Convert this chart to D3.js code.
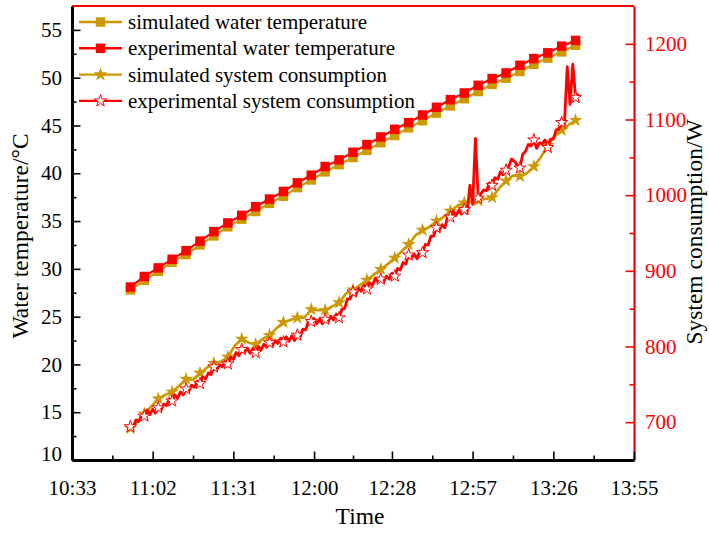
<!DOCTYPE html>
<html>
<head>
<meta charset="utf-8">
<script src="https://cdn.jsdelivr.net/npm/d3@7"></script>
<style>
  body { margin: 0; background: #fff; }
  svg { display: block; font-family: "Liberation Serif", "Times New Roman", serif; }
</style>
</head>
<body>
<div id="chart"></div>
<script>
// Axis ticks
const timeTicks = ["10:33", "11:02", "11:31", "12:00", "12:28", "12:57", "13:26", "13:55"];
const tempTicks = [10, 15, 20, 25, 30, 35, 40, 45, 50, 55];
const powerTicks = [700, 800, 900, 1000, 1100, 1200];

// Water temperature (°C), one reading every 5 min
const tempStart = "10:54", tempStep = 5;
const simTemp = [27.8, 28.8, 29.75, 30.7, 31.5, 32.5, 33.45, 34.4, 35.2, 36.0,
  36.85, 37.6, 38.5, 39.3, 40.15, 40.9, 41.65, 42.4, 43.2, 43.95,
  44.75, 45.5, 46.3, 47.05, 47.8, 48.55, 49.3, 49.95, 50.65, 51.4,
  52.05, 52.7, 53.4];
const expTemp = [28.1, 29.2, 30.1, 31.0, 31.9, 32.9, 33.9, 34.8, 35.6, 36.5,
  37.3, 38.1, 39.0, 39.8, 40.7, 41.4, 42.2, 43.0, 43.8, 44.6,
  45.3, 46.1, 46.9, 47.7, 48.4, 49.2, 49.9, 50.5, 51.3, 52.0,
  52.6, 53.3, 53.9];

// Simulated system consumption (W), every 2.5 min
const simPowerStart = "10:54", simPowerStep = 2.5;
const simPower = [692, 700, 711, 721, 731, 736, 740, 748, 757, 756,
  765, 772, 778, 780, 786, 801, 810, 805, 803, 810,
  815, 824, 832, 835, 838, 838, 849, 848, 848, 853,
  858, 870, 875, 881, 888, 895, 902, 909, 917, 926,
  935, 947, 954, 958, 966, 971, 979, 986, 990, 991,
  993, 995, 997, 1009, 1019, 1026, 1025, 1029, 1038, 1050,
  1066, 1078, 1086, 1093, 1099];

// Measured system consumption (W), every minute
const expPowerStart = "10:53", expPowerStep = 1;
const expPower = [689, 694, 694, 703, 701, 709, 708, 716, 710, 717,
  712, 719, 716, 724, 722, 731, 728, 736, 732, 740,
  736, 744, 741, 749, 746, 754, 751, 760, 757, 765,
  763, 773, 769, 776, 773, 780, 777, 786, 783, 792,
  788, 796, 792, 798, 791, 797, 792, 800, 796, 803,
  799, 805, 801, 808, 804, 811, 806, 813, 807, 814,
  808, 815, 813, 823, 822, 834, 833, 837, 830, 836,
  830, 836, 832, 840, 835, 843, 838, 849, 850, 863,
  863, 872, 868, 877, 873, 881, 876, 884, 881, 890,
  885, 889, 885, 893, 889, 897, 893, 903, 901, 911,
  909, 921, 917, 922, 916, 926, 924, 935, 934, 946,
  946, 957, 953, 961, 957, 971, 971, 979, 973, 980,
  975, 981, 976, 1013, 988, 1075, 996, 1002, 1007, 1006,
  1016, 1013, 1023, 1021, 1031, 1027, 1033, 1038, 1048, 1045,
  1040, 1036, 1054, 1058, 1067, 1065, 1073, 1062, 1069, 1068,
  1073, 1063, 1074, 1074, 1086, 1087, 1096, 1094, 1170, 1120,
  1173, 1129, 1134];

const GOLD = "#CC9900", RED = "#FF0000";
const SERIF = '"Liberation Serif", "Times New Roman", serif';

const toMin = s => { const [h, m] = s.split(":").map(Number); return h * 60 + m; };
const series = (start, step, vals) => vals.map((v, i) => ({ t: toMin(start) + i * step, v }));

const W = 709, H = 533;
const margin = { left: 72, right: 75, top: 6, bottom: 73 };
const plotW = W - margin.left - margin.right;
const plotH = H - margin.top - margin.bottom;

const svg = d3.select("#chart").append("svg")
  .attr("width", W).attr("height", H);

const g = svg.append("g").attr("transform", `translate(${margin.left},${margin.top})`);

// SCALES
const x = d3.scaleLinear().domain([toMin("10:33"), toMin("13:55")]).range([0, plotW]);
const yT = d3.scaleLinear().domain([10, 57.5]).range([plotH, 0]);
const yP = d3.scaleLinear().domain([650, 1250]).range([plotH, 0]);

const xMajor = timeTicks.map(toMin);
const xMinor = d3.pairs(xMajor).map(([a, b]) => (a + b) / 2);

// AXES (ticks point inward)
const styleAxis = (sel, color, width) => {
  sel.attr("font-family", SERIF).attr("font-size", 21);
  sel.select(".domain").attr("stroke", color).attr("stroke-width", width);
  sel.selectAll(".tick line").attr("stroke", color).attr("stroke-width", 1.6);
  sel.selectAll(".tick text").attr("fill", color === RED ? RED : "#000");
};
const minorStyle = color => s => {
  s.select(".domain").remove();
  s.selectAll("line").attr("stroke", color).attr("stroke-width", 1.6);
};

// minor ticks first so the axis lines sit on top
g.append("g").attr("transform", `translate(0,${plotH})`)
  .call(d3.axisBottom(x).tickValues(xMinor).tickSize(-4.5).tickSizeOuter(0).tickFormat(""))
  .call(minorStyle("#000"));
g.append("g")
  .call(d3.axisLeft(yT).tickValues(d3.range(12.5, 57.5, 5)).tickSize(-4.5).tickSizeOuter(0).tickFormat(""))
  .call(minorStyle("#000"));
g.append("g").attr("transform", `translate(${plotW},0)`)
  .call(d3.axisRight(yP).tickValues(d3.range(750, 1200, 100)).tickSize(-4.5).tickSizeOuter(0).tickFormat(""))
  .call(minorStyle(RED));

// top frame line
g.append("line").attr("x1", 0).attr("x2", plotW).attr("y1", 0).attr("y2", 0)
  .attr("stroke", RED).attr("stroke-width", 2.2);

g.append("g").attr("transform", `translate(${plotW},0)`)
  .call(d3.axisRight(yP).tickValues(powerTicks).tickSize(-8.5).tickSizeOuter(0).tickPadding(11)
    .tickFormat(d3.format("d")))
  .call(s => styleAxis(s, RED, 2.2));

g.append("g").attr("transform", `translate(0,${plotH})`)
  .call(d3.axisBottom(x).tickValues(xMajor).tickSize(-8.5).tickSizeOuter(0).tickPadding(20)
    .tickFormat((d, i) => timeTicks[i]))
  .call(s => styleAxis(s, "#000", 3));

const leftAxis = g.append("g")
  .call(d3.axisLeft(yT).tickValues(tempTicks).tickSize(-8.5).tickSizeOuter(0).tickPadding(10))
  .call(s => styleAxis(s, "#000", 3));
// lowest label sits a little above the corner
leftAxis.selectAll(".tick text").filter(d => d === 10).attr("dy", "0em");

// LINES
const lineT = d3.line().x(d => x(d.t)).y(d => yT(d.v));
const lineP = d3.line().x(d => x(d.t)).y(d => yP(d.v));

const simT = series(tempStart, tempStep, simTemp);
const expT = series(tempStart, tempStep, expTemp);
const simP = series(simPowerStart, simPowerStep, simPower);
const expP = series(expPowerStart, expPowerStep, expPower);

const square = d3.symbol(d3.symbolSquare, 90);
const goldStar = d3.symbol(d3.symbolStar, 60);
const hollowStar = d3.symbol(d3.symbolStar, 46);

const drawMarkers = (data, yScale, sym, fill, stroke) => {
  g.append("g").selectAll("path").data(data).join("path")
    .attr("transform", d => `translate(${x(d.t)},${yScale(d.v)})`)
    .attr("d", sym)
    .attr("fill", fill)
    .attr("stroke", stroke || "none")
    .attr("stroke-width", 1);
};

g.append("path").datum(simT).attr("d", lineT)
  .attr("fill", "none").attr("stroke", GOLD).attr("stroke-width", 2.2);
drawMarkers(simT, yT, square, GOLD);

g.append("path").datum(expT).attr("d", lineT)
  .attr("fill", "none").attr("stroke", RED).attr("stroke-width", 2.2);
drawMarkers(expT, yT, square, RED);

g.append("path").datum(simP).attr("d", lineP)
  .attr("fill", "none").attr("stroke", GOLD).attr("stroke-width", 2.6)
  .attr("stroke-linejoin", "round");
drawMarkers(simP.filter((d, i) => i % 2 === 0), yP, goldStar, GOLD);

g.append("path").datum(expP).attr("d", lineP)
  .attr("fill", "none").attr("stroke", RED).attr("stroke-width", 2.8)
  .attr("stroke-linejoin", "round");
drawMarkers(expP.filter((d, i) => i % 5 === 1), yP, hollowStar, "#fff", RED);

// LEGEND
const legendItems = [
  { label: "simulated water temperature", color: GOLD, sym: square, fill: GOLD },
  { label: "experimental water temperature", color: RED, sym: square, fill: RED },
  { label: "simulated system consumption", color: GOLD, sym: goldStar, fill: GOLD },
  { label: "experimental system consumption", color: RED, sym: hollowStar, fill: "#fff", stroke: RED }
];
const legend = svg.append("g");
legendItems.forEach((it, i) => {
  const ly = 22 + i * 26.3;
  legend.append("line").attr("x1", 79).attr("x2", 122).attr("y1", ly).attr("y2", ly)
    .attr("stroke", it.color).attr("stroke-width", 2.4);
  legend.append("path").attr("transform", `translate(100.5,${ly})`).attr("d", it.sym)
    .attr("fill", it.fill).attr("stroke", it.stroke || "none").attr("stroke-width", 1);
  legend.append("text").attr("x", 128).attr("y", ly + 7)
    .style("font-size", "21px").text(it.label);
});

// AXIS TITLES
svg.append("text")
  .attr("transform", `translate(27.5,${236}) rotate(-90)`)
  .attr("text-anchor", "middle")
  .style("font-size", "23.5px")
  .text("Water temperature/°C");

svg.append("text")
  .attr("transform", `translate(701.5,${232}) rotate(-90)`)
  .attr("text-anchor", "middle")
  .style("font-size", "23.5px")
  .text("System consumption/W");

svg.append("text")
  .attr("x", margin.left + plotW / 2 + 7).attr("y", 524)
  .attr("text-anchor", "middle")
  .style("font-size", "23.5px")
  .text("Time");
</script>
</body>
</html>
